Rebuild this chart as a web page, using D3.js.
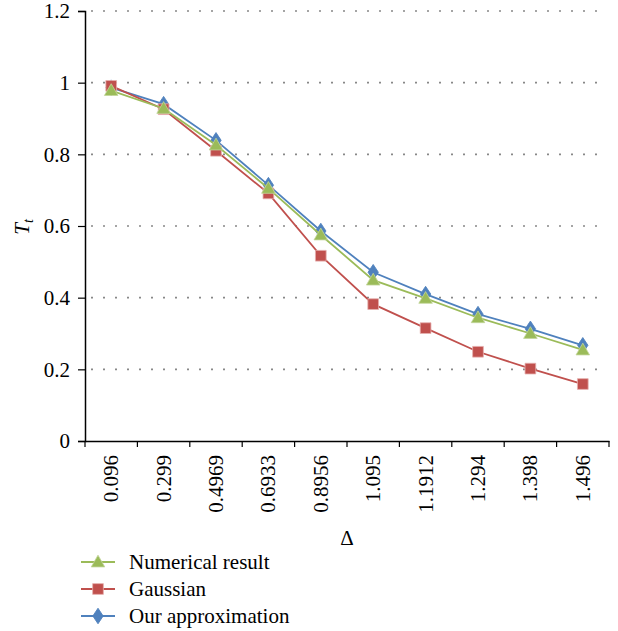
<!DOCTYPE html>
<html>
<head>
  <meta charset="utf-8">
  <script src="https://cdn.jsdelivr.net/npm/d3@7/dist/d3.min.js"></script>
  <style>
    body { margin: 0; background: #fff; }
    text { font-family: "Liberation Serif", "Times New Roman", serif; font-size: 21px; fill: #000; }
  </style>
</head>
<body>
  <svg id="chart" width="618" height="631"></svg>
  <script>
    var categories = ["0.096", "0.299", "0.4969", "0.6933", "0.8956", "1.095", "1.1912", "1.294", "1.398", "1.496"];
    var numerical = [0.978, 0.928, 0.826, 0.705, 0.575, 0.449, 0.398, 0.344, 0.300, 0.254];
    var gaussian = [0.991, 0.926, 0.810, 0.691, 0.517, 0.382, 0.315, 0.249, 0.202, 0.159];
    var approx = [0.986, 0.940, 0.839, 0.714, 0.586, 0.471, 0.410, 0.354, 0.313, 0.267];
    var yTicks = [0, 0.2, 0.4, 0.6, 0.8, 1, 1.2];

    var svg = d3.select("#chart");
    var plotLeft = 85, plotRight = 609, plotTop = 11, plotBottom = 441;

    var x = d3.scaleBand().domain(categories).range([plotLeft, plotRight]).padding(0);
    var y = d3.scaleLinear().domain([0, 1.2]).range([plotBottom, plotTop]);

    // dotted gridlines
    svg.append("g")
      .selectAll("line")
      .data(yTicks.filter(d => d > 0))
      .enter()
      .append("line")
      .attr("x1", plotLeft + 6).attr("x2", 604)
      .attr("y1", d => y(d)).attr("y2", d => y(d))
      .attr("stroke", "#888")
      .attr("stroke-width", 1.6)
      .attr("stroke-dasharray", "2,10");

    // y axis
    var yAxis = svg.append("g")
      .attr("transform", "translate(" + plotLeft + ",0)")
      .call(d3.axisLeft(y).tickValues(yTicks).tickFormat(d3.format("")).tickSize(7).tickPadding(8));
    yAxis.select(".domain").attr("stroke", "#000").attr("stroke-width", 1.5);
    yAxis.selectAll(".tick line").attr("stroke", "#000").attr("stroke-width", 1.2);
    yAxis.selectAll("text").attr("font-size", 21).attr("font-family", "Liberation Serif").attr("dy", "0.33em");

    // x axis
    var xAxis = svg.append("g")
      .attr("transform", "translate(0," + plotBottom + ")")
      .call(d3.axisBottom(x).tickSize(0).tickSizeOuter(0));
    xAxis.select(".domain").attr("stroke", "#000").attr("stroke-width", 1.5);
    xAxis.selectAll(".tick text")
      .attr("font-size", 21).attr("font-family", "Liberation Serif")
      .attr("text-anchor", "end")
      .attr("transform", "translate(0,14) rotate(-90)")
      .attr("x", 0).attr("y", 0).attr("dy", "0.33em");
    // tick marks at band boundaries
    svg.append("g")
      .selectAll("line")
      .data(categories.map(c => x(c)).concat([plotRight]))
      .enter()
      .append("line")
      .attr("x1", d => d).attr("x2", d => d)
      .attr("y1", plotBottom).attr("y2", plotBottom + 6)
      .attr("stroke", "#000").attr("stroke-width", 1.2);

    // axis labels
    svg.append("text")
      .attr("x", (plotLeft + plotRight) / 2).attr("y", 545)
      .attr("text-anchor", "middle")
      .text("Δ");

    var yl = svg.append("text")
      .attr("transform", "translate(29,227) rotate(-90)")
      .attr("text-anchor", "middle");
    yl.append("tspan").attr("font-style", "italic").text("T");
    yl.append("tspan").attr("font-style", "italic").attr("font-size", 14).attr("dy", 4).text("t");

    var cx = d => x(d) + x.bandwidth() / 2;

    var series = [
      { name: "Our approximation", values: approx, color: "#4F81BD", shape: d3.symbolDiamond, size: 70, stroke: "#4F81BD" },
      { name: "Gaussian", values: gaussian, color: "#C0504D", shape: d3.symbolSquare, size: 115, stroke: "#E6B0AF" },
      { name: "Numerical result", values: numerical, color: "#9BBB59", shape: d3.symbolTriangle, size: 80, stroke: "#C3D69B" }
    ];

    var line = d3.line()
      .x((d, i) => cx(categories[i]))
      .y(d => y(d));

    series.forEach(function (s) {
      svg.append("path")
        .attr("d", line(s.values))
        .attr("fill", "none")
        .attr("stroke", s.color)
        .attr("stroke-width", 1.8);
      svg.append("g")
        .selectAll("path")
        .data(s.values)
        .enter()
        .append("path")
        .attr("d", d3.symbol().type(s.shape).size(s.size))
        .attr("transform", (d, i) => "translate(" + cx(categories[i]) + "," + (y(d) + (s.shape === d3.symbolTriangle ? 1 : 0)) + ")" + (s.shape === d3.symbolDiamond ? " scale(1.15,1)" : ""))
        .attr("fill", s.color)
        .attr("stroke", s.stroke)
        .attr("stroke-width", 0.8);
    });

    // legend
    var legendOrder = [series[2], series[1], series[0]];
    var lg = svg.append("g")
      .selectAll("g")
      .data(legendOrder)
      .enter()
      .append("g")
      .attr("transform", (d, i) => "translate(0," + (562 + i * 27) + ")");
    lg.append("line")
      .attr("x1", 81).attr("x2", 115)
      .attr("stroke", d => d.color).attr("stroke-width", 1.8);
    lg.append("path")
      .attr("d", d => d3.symbol().type(d.shape).size(d.size)())
      .attr("transform", d => "translate(98," + (d.shape === d3.symbolTriangle ? 1 : 0) + ")" + (d.shape === d3.symbolDiamond ? " scale(1.15,1)" : ""))
      .attr("fill", d => d.color)
      .attr("stroke", d => d.stroke)
      .attr("stroke-width", 0.8);
    lg.append("text")
      .attr("x", 129).attr("y", 7)
      .text(d => d.name);
  </script>
</body>
</html>
